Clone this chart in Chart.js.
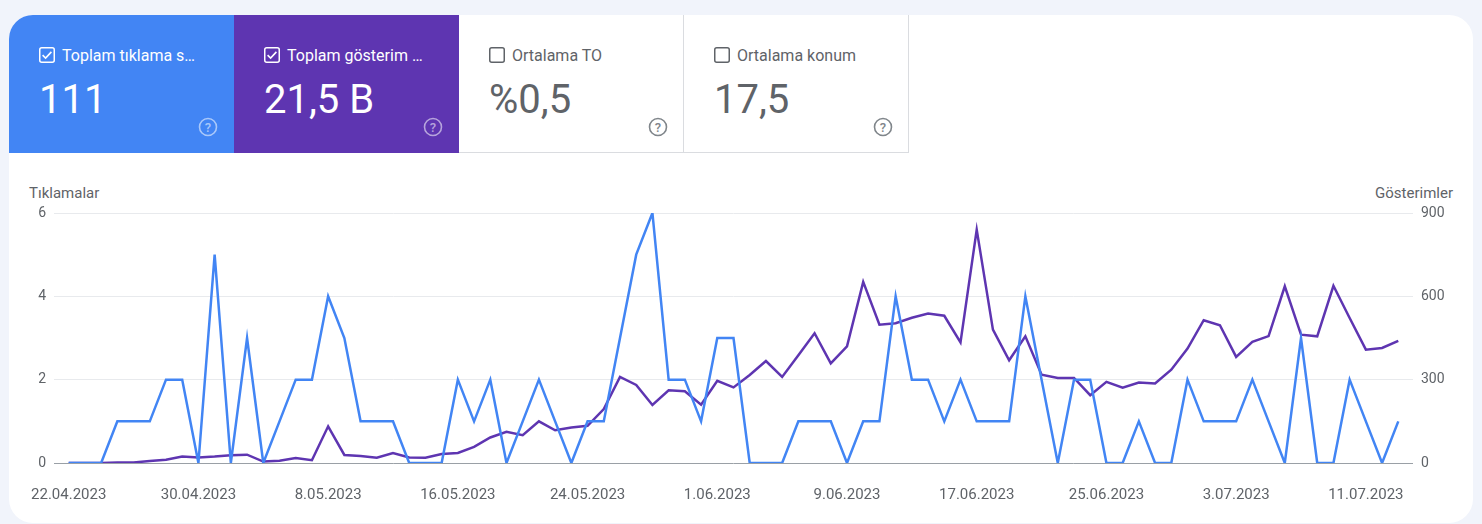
<!DOCTYPE html>
<html>
<head>
<meta charset="utf-8">
<script src="https://cdn.jsdelivr.net/npm/chart.js@4"></script>
<style>
  html,body{margin:0;padding:0;}
  body{width:1482px;height:524px;background:#f1f4fb;font-family:Roboto,"Noto Sans",sans-serif;position:relative;overflow:hidden;}
  .card{position:absolute;left:9px;top:15px;width:1464px;height:508px;background:#fff;border-radius:24px;overflow:hidden;}
  .tile{position:absolute;top:0;width:225px;height:138px;box-sizing:border-box;}
  .t1{left:0;background:#4285f4;color:#fff;}
  .t2{left:225px;background:#5e35b1;color:#fff;}
  .t3{left:450px;background:#fff;color:#5f6368;border-right:1px solid #dadce0;border-bottom:1px solid #dadce0;}
  .t4{left:675px;background:#fff;color:#5f6368;border-right:1px solid #dadce0;border-bottom:1px solid #dadce0;}
  .lbl{position:absolute;left:53px;top:31px;font-size:16px;line-height:19px;white-space:nowrap;}
  .cb{position:absolute;left:30px;top:32px;width:16px;height:16px;}
  .val{position:absolute;left:30px;top:61px;font-size:40px;line-height:48px;white-space:nowrap;}
  .help{position:absolute;left:189px;top:102px;width:20px;height:20px;}
  .axt{position:absolute;top:185px;font-size:15px;line-height:17px;color:#5f6368;}
  #wrap{position:absolute;left:9px;top:195px;width:1464px;height:315px;}
</style>
</head>
<body>
<div class="card">
  <div class="tile t1">
    <svg class="cb" viewBox="0 0 16 16"><rect x="0.75" y="0.75" width="14.5" height="14.5" rx="2" fill="none" stroke="#fff" stroke-width="1.5"/><path d="M3.6 8.2 L6.6 11.1 L12.4 4.9" fill="none" stroke="#fff" stroke-width="1.6"/></svg>
    <div class="lbl">Toplam tıklama s…</div>
    <div class="val">111</div>
    <svg class="help" viewBox="0 0 20 20"><circle cx="10" cy="10" r="8.5" fill="none" stroke="rgba(255,255,255,0.55)" stroke-width="1.6"/><text x="10" y="14.5" text-anchor="middle" font-size="13" font-family="Roboto" font-weight="500" fill="rgba(255,255,255,0.55)">?</text></svg>
  </div>
  <div class="tile t2">
    <svg class="cb" viewBox="0 0 16 16"><rect x="0.75" y="0.75" width="14.5" height="14.5" rx="2" fill="none" stroke="#fff" stroke-width="1.5"/><path d="M3.6 8.2 L6.6 11.1 L12.4 4.9" fill="none" stroke="#fff" stroke-width="1.6"/></svg>
    <div class="lbl">Toplam gösterim …</div>
    <div class="val">21,5 B</div>
    <svg class="help" viewBox="0 0 20 20"><circle cx="10" cy="10" r="8.5" fill="none" stroke="rgba(255,255,255,0.55)" stroke-width="1.6"/><text x="10" y="14.5" text-anchor="middle" font-size="13" font-family="Roboto" font-weight="500" fill="rgba(255,255,255,0.55)">?</text></svg>
  </div>
  <div class="tile t3">
    <svg class="cb" viewBox="0 0 16 16"><rect x="0.75" y="0.75" width="14.5" height="14.5" rx="2" fill="none" stroke="#5f6368" stroke-width="1.5"/></svg>
    <div class="lbl">Ortalama TO</div>
    <div class="val">%0,5</div>
    <svg class="help" viewBox="0 0 20 20"><circle cx="10" cy="10" r="8.5" fill="none" stroke="#80868b" stroke-width="1.6"/><text x="10" y="14.5" text-anchor="middle" font-size="13" font-family="Roboto" font-weight="500" fill="#80868b">?</text></svg>
  </div>
  <div class="tile t4">
    <svg class="cb" viewBox="0 0 16 16"><rect x="0.75" y="0.75" width="14.5" height="14.5" rx="2" fill="none" stroke="#5f6368" stroke-width="1.5"/></svg>
    <div class="lbl">Ortalama konum</div>
    <div class="val">17,5</div>
    <svg class="help" viewBox="0 0 20 20"><circle cx="10" cy="10" r="8.5" fill="none" stroke="#80868b" stroke-width="1.6"/><text x="10" y="14.5" text-anchor="middle" font-size="13" font-family="Roboto" font-weight="500" fill="#80868b">?</text></svg>
  </div>
</div>
<div class="axt" style="left:29px;">Tıklamalar</div>
<div class="axt" style="right:29px;">Gösterimler</div>
<div id="wrap"><canvas id="c"></canvas></div>
<script>
const dates = [
 "22.04.2023","23.04.2023","24.04.2023","25.04.2023","26.04.2023","27.04.2023","28.04.2023","29.04.2023","30.04.2023",
 "1.05.2023","2.05.2023","3.05.2023","4.05.2023","5.05.2023","6.05.2023","7.05.2023","8.05.2023","9.05.2023","10.05.2023",
 "11.05.2023","12.05.2023","13.05.2023","14.05.2023","15.05.2023","16.05.2023","17.05.2023","18.05.2023","19.05.2023","20.05.2023",
 "21.05.2023","22.05.2023","23.05.2023","24.05.2023","25.05.2023","26.05.2023","27.05.2023","28.05.2023","29.05.2023","30.05.2023","31.05.2023",
 "1.06.2023","2.06.2023","3.06.2023","4.06.2023","5.06.2023","6.06.2023","7.06.2023","8.06.2023","9.06.2023","10.06.2023",
 "11.06.2023","12.06.2023","13.06.2023","14.06.2023","15.06.2023","16.06.2023","17.06.2023","18.06.2023","19.06.2023","20.06.2023",
 "21.06.2023","22.06.2023","23.06.2023","24.06.2023","25.06.2023","26.06.2023","27.06.2023","28.06.2023","29.06.2023","30.06.2023",
 "1.07.2023","2.07.2023","3.07.2023","4.07.2023","5.07.2023","6.07.2023","7.07.2023","8.07.2023","9.07.2023","10.07.2023",
 "11.07.2023","12.07.2023","13.07.2023"
];
const clicks = [
 0,0,0,1,1,1,2,2,0,5,
 0,3,0,1,2,2,4,3,1,1,
 1,0,0,0,2,1,2,0,1,2,
 1,0,1,1,3,5,6,2,2,1,
 3,3,0,0,0,1,1,1,0,1,
 1,4,2,2,1,2,1,1,1,4,
 2,0,2,2,0,0,1,0,0,2,
 1,1,1,2,1,0,3,0,0,2,
 1,0,1
];
const impressions = [
 0,0,0,2,2,7,12,23,20,23,
 28,30,5,8,18,10,132,29,25,19,
 36,20,19,32,36,58,92,112,100,150,
 118,128,134,194,310,281,209,262,258,210,
 296,272,317,367,310,388,467,359,420,652,
 498,503,523,538,530,434,840,480,370,456,
 318,306,306,244,292,271,290,286,336,412,
 514,496,382,436,457,636,462,456,638,522,
 408,414,440
];
const xTickLabels = ["22.04.2023","30.04.2023","8.05.2023","16.05.2023","24.05.2023","1.06.2023","9.06.2023","17.06.2023","25.06.2023","3.07.2023","11.07.2023"];
const leftTicks = [0,2,4,6];
const rightTicks = [0,300,600,900];

const xTickIdx = xTickLabels.map(l => dates.indexOf(l));
const toPts = arr => arr.map((v,i)=>({x:i,y:v}));
const tickFont = {family:'Roboto', size:14};

new Chart(document.getElementById('c'), {
  type:'line',
  data:{datasets:[
    {label:'Tıklamalar', data:toPts(clicks), yAxisID:'y', borderColor:'#4285f4', borderWidth:2.5, pointRadius:0, tension:0, fill:false},
    {label:'Gösterimler', data:toPts(impressions), yAxisID:'y1', borderColor:'#5e35b1', borderWidth:2.5, pointRadius:0, tension:0, fill:false}
  ]},
  options:{
    responsive:true, maintainAspectRatio:false, animation:false,
    layout:{padding:{top:18,left:0,right:0,bottom:0}},
    plugins:{legend:{display:false}, tooltip:{enabled:false}},
    scales:{
      x:{type:'linear', min:-0.907, max:dates.length-1+0.907,
        grid:{display:false}, border:{display:false},
        afterBuildTicks:s=>{s.ticks = xTickIdx.map(v=>({value:v}));},
        afterFit:s=>{s.height=47;},
        ticks:{autoSkip:false, maxRotation:0, padding:15, color:'#5f6368', font:{family:'Roboto',size:15},
          callback:v=>dates[v]}},
      y:{position:'left', min:0, max:6,
        afterBuildTicks:s=>{s.ticks = leftTicks.map(v=>({value:v}));},
        afterFit:s=>{s.width=45;},
        border:{display:false},
        grid:{drawTicks:false, lineWidth:1, color:c=>c.tick && c.tick.value===0 ? '#9aa0a6' : '#e8eaed'},
        ticks:{padding:8, color:'#5f6368', font:tickFont}},
      y1:{position:'right', min:0, max:900,
        afterBuildTicks:s=>{s.ticks = rightTicks.map(v=>({value:v}));},
        afterFit:s=>{s.width=60;},
        border:{display:false},
        grid:{display:false, drawTicks:false},
        ticks:{padding:8, color:'#5f6368', font:tickFont}}
    }
  }
});
</script>
</body>
</html>
